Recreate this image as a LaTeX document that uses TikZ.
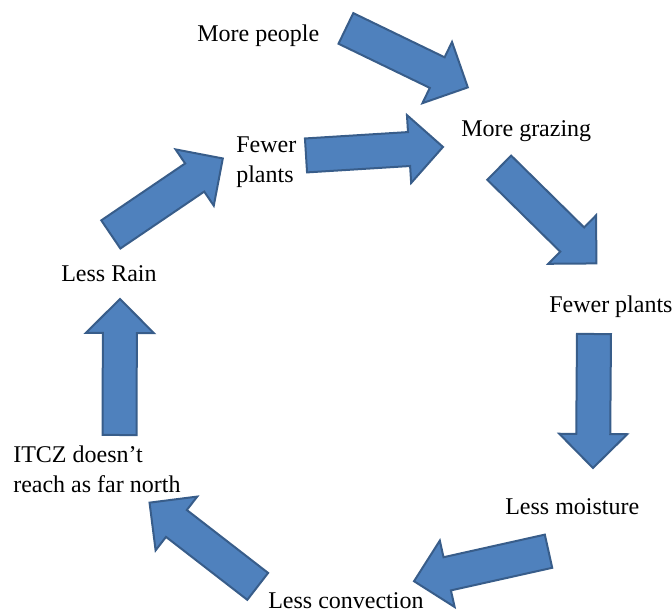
\documentclass[tikz,border=0pt]{standalone}
\usepackage{fontspec}
\setmainfont{Liberation Serif}
\usetikzlibrary{shapes.arrows,calc}
\definecolor{arrowblue}{HTML}{4F81BD}
\definecolor{arrowedge}{HTML}{385D8A}

% block arrow from coordinate #1 (tail) to #2 (tip), node name #3
\newcommand\blockarrow[3]{%
  \path let \p1=($(#2)-(#1)$), \n1={atan2(\y1,\x1)}, \n2={veclen(\x1,\y1)} in
    node[bigarrow, rotate=\n1, minimum height=\n2, anchor=tail] (#3) at (#1) {};
}

\begin{document}
\begin{tikzpicture}[
  x=0.75pt, y=-0.75pt,
  lbl/.style={inner sep=0pt, align=left, font=\fontsize{18}{22.5}\selectfont},
  bigarrow/.style={single arrow, draw=arrowedge, fill=arrowblue, line width=1.5pt,
    inner sep=0pt, inner ysep=12pt, single arrow head extend=12.75pt,
    single arrow tip angle=90, single arrow head indent=0pt},
]
\useasboundingbox (0,0) rectangle (672,613);

% Labels
\node[lbl, anchor=base west] (people)     at (197,42)  {More people};
\node[lbl, anchor=base west] (grazing)    at (461,137) {More grazing};
\node[lbl, anchor=base west] (plantsR)    at (549,313) {Fewer plants};
\node[lbl, anchor=base west] (moisture)   at (505,514) {Less moisture};
\node[lbl, anchor=base west] (convection) at (268,608) {Less convection};
\node[lbl, anchor=base west] (itcz)       at (13,492)  {ITCZ doesn’t\\reach as far north};
\node[lbl, anchor=base west] (rain)       at (61,282)  {Less Rain};
\node[lbl, anchor=base west] (plantsL)    at (236,183) {Fewer\\plants};

% Arrow ends (tail t, tip h)
\coordinate (t1) at (345,28);    \coordinate (h1) at (467,87);
\coordinate (t2) at (305,155.5); \coordinate (h2) at (442,147);
\coordinate (t3) at (110,235);   \coordinate (h3) at (222,159);
\coordinate (t4) at (498.5,167); \coordinate (h4) at (596,263);
\coordinate (t5) at (594,333);   \coordinate (h5) at (593,467);
\coordinate (t6) at (549.5,551); \coordinate (h6) at (415,581);
\coordinate (t7) at (258.5,587); \coordinate (h7) at (150,503);
\coordinate (t8) at (119.5,436); \coordinate (h8) at (120,300);

% Block arrows
\foreach \i in {1,...,8}{
  \blockarrow{t\i}{h\i}{arr\i}
}

\end{tikzpicture}
\end{document}
